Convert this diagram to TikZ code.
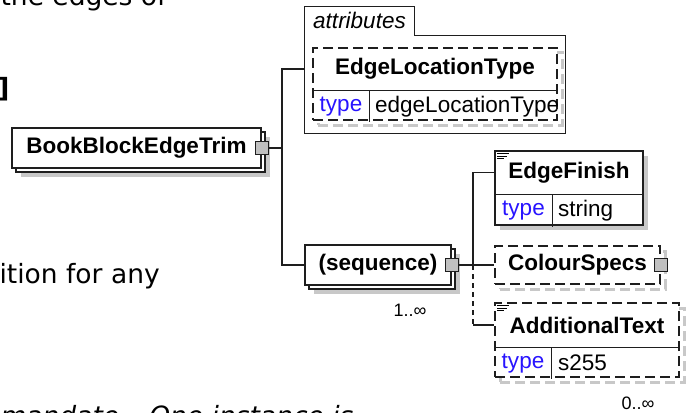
\documentclass[tikz,border=0pt]{standalone}
\usepackage{fontspec}
\setmainfont{Liberation Sans}
\newfontfamily\pagefont{DejaVu Sans}
\usetikzlibrary{positioning,shadows}
\definecolor{shgray}{RGB}{200,200,200}
\definecolor{sqgray}{RGB}{192,192,192}
\definecolor{typeblue}{RGB}{40,20,255}
\definecolor{boxline}{RGB}{30,30,30}
\newcommand{\nmfont}{\fontsize{22.5}{26}\selectfont\bfseries}
\newcommand{\txfont}{\fontsize{22.5}{26}\selectfont}
\newcommand{\pgfont}{\pagefont\fontsize{26.5}{30}\selectfont}

\begin{document}
\begin{tikzpicture}[x=1pt,y=-1pt,line width=1.2pt,
  elem/.style={draw=boxline,fill=white,inner sep=0pt,font=\nmfont},
  opt/.style={elem,dash pattern=on 10pt off 5pt},
  shade/.style={general shadow={fill=shgray,draw=none,shadow xshift=5pt,shadow yshift=-5pt}},
  dshade/.style={general shadow={draw=shgray,fill=none,line width=3pt,dash pattern=on 10pt off 5pt,shadow xshift=5pt,shadow yshift=-5pt}},
  stack/.style={general shadow={fill=shgray,draw=none,shadow xshift=9pt,shadow yshift=-9pt},
    general shadow={draw=boxline,fill=white,shadow xshift=4pt,shadow yshift=-4pt}},
  expand/.style={draw=boxline,fill=sqgray,minimum width=13pt,minimum height=13pt,inner sep=0pt},
  conn/.style={draw=boxline},
  hd/.style={inner sep=0pt,font=\nmfont},
  lbl/.style={inner sep=0pt,font=\txfont},
  typ/.style={lbl,text=typeblue},
  occ/.style={inner sep=0pt,font=\fontsize{18}{20}\selectfont},
  pagetxt/.style={inner sep=0pt,font=\pgfont,anchor=base west}]
\useasboundingbox (0,0) rectangle (687,412);
\clip (0,0) rectangle (687,412);
% page text behind the diagram
\node[pagetxt] (pg1) at (0,6) {the edges of};
\node[pagetxt,anchor=base east,font=\pgfont\bfseries] (pg2) at (10,97) {]};
\node[pagetxt] (pg3) at (-1,283) {ition for any};
\node[pagetxt,font=\pgfont\itshape] (pg4) at (0,425) {mandate – One instance is};
% root element
\node[elem,stack,minimum width=249pt,minimum height=40pt] (bbet) at (136.5,148) {BookBlockEdgeTrim};
\node[expand] (bbetsq) at (bbet.east) {};
\coordinate (tr1) at (282,148);
% attributes group
\node[inner sep=0pt,minimum width=260pt,minimum height=97pt] (attr) at (435,84.5) {};
\node[inner sep=0pt,minimum width=109pt,minimum height=28pt,anchor=south west,font=\txfont\itshape] (attrtab) at (attr.north west) {attributes};
\draw[conn] (attrtab.south east) -- (attr.north east) -- (attr.south east) -- (attr.south west)
  -- (attrtab.north west) -- (attrtab.north east) -- cycle;
\node[opt,dshade,minimum width=244pt,minimum height=72pt] (eltbox) at (435,84) {};
\node[hd,minimum width=244pt,minimum height=42pt,anchor=north] (elt) at (eltbox.north) {EdgeLocationType};
\node[typ,minimum width=56pt,minimum height=30pt,anchor=north west] (elttype) at (elt.south west) {type};
\node[lbl,anchor=west] (eltval) at ([xshift=5pt]elttype.east) {edgeLocationType};
\draw[conn] (elt.south west) -- (elt.south east);
\draw[conn] (elttype.north east) -- (elttype.south east);
% sequence
\node[elem,stack,minimum width=146pt,minimum height=40pt] (seq) at (378,265) {(sequence)};
\node[expand] (seqsq) at (seq.east) {};
\node[occ] (seqocc) at (410,310) {1..∞};
\coordinate (tr2) at (473,265);
% EdgeFinish
\node[elem,shade,minimum width=148pt,minimum height=74pt] (efbox) at (569,188) {};
\node[hd,minimum width=148pt,minimum height=43pt,anchor=north] (ef) at (efbox.north) {EdgeFinish};
\node[typ,minimum width=57pt,minimum height=31pt,anchor=north west] (eftype) at (ef.south west) {type};
\node[lbl,anchor=west] (efval) at ([xshift=5pt]eftype.east) {string};
\draw[conn] (ef.south west) -- (ef.south east);
\draw[conn] (eftype.north east) -- (eftype.south east);
\foreach \dy/\len in {3/12,5.7/10,8.4/7}
  \draw[line width=0.8pt] ([shift={(3,\dy)}]efbox.north west) -- ++(\len,0);
% ColourSpecs
\node[opt,dshade,minimum width=165pt,minimum height=38pt] (cs) at (577.5,265) {ColourSpecs};
\node[expand] (cssq) at (cs.east) {};
% AdditionalText
\node[opt,dshade,minimum width=184pt,minimum height=74pt] (atbox) at (587,340) {};
\node[hd,minimum width=184pt,minimum height=44pt,anchor=north] (at) at (atbox.north) {AdditionalText};
\node[typ,minimum width=56pt,minimum height=30pt,anchor=north west] (attype) at (at.south west) {type};
\node[lbl,anchor=west] (atval) at ([xshift=6pt]attype.east) {s255};
\draw[conn] (at.south west) -- (at.south east);
\draw[conn] (attype.north east) -- (attype.south east);
\foreach \dy/\len in {3/12,5.7/10,8.4/7}
  \draw[line width=0.8pt] ([shift={(3,\dy)}]atbox.north west) -- ++(\len,0);
\node[occ] (atocc) at (638,403) {0..∞};
% connectors
\draw[conn] (bbetsq.east) -- (tr1);
\draw[conn] (tr1) |- (attr.west |- elt.west);
\draw[conn] (tr1) |- (seq.west);
\draw[conn] (seqsq.east) -- (cs.west);
\draw[conn] (tr2) |- (efbox.west |- ef.west);
\draw[conn,dash pattern=on 5pt off 4pt] (tr2) -- (tr2 |- at.west);
\draw[conn] (tr2 |- at.west) -- (atbox.west |- at.west);
\end{tikzpicture}
\end{document}
